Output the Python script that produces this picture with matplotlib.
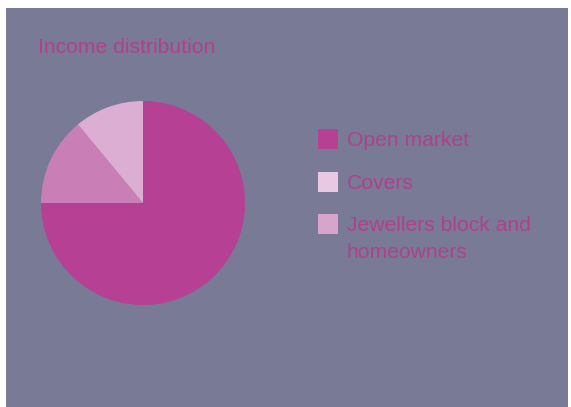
import matplotlib
matplotlib.use("Agg")
import matplotlib.pyplot as plt
from matplotlib.patches import Rectangle

# data
labels = ["Open market", "Covers", "Jewellers block and\nhomeowners"]
shares = [75, 14, 11]
pie_colors = ["#B54094", "#C97FB5", "#DCAED3"]
legend_colors = ["#B54094", "#E9C9E2", "#D7A4CB"]
title = "Income distribution"

W, H = 571, 407
bg = "#787A96"
text_color = "#B0408C"
font = "Liberation Sans"
fs = 15.2

fig = plt.figure(figsize=(W / 100, H / 100), dpi=100, facecolor="white")

def fx(px):
    return px / W

def fy(py):
    return 1 - py / H

# grey panel
fig.patches.append(Rectangle((fx(6), fy(407)), fx(568) - fx(6), fy(8) - fy(407),
                             transform=fig.transFigure, facecolor=bg,
                             edgecolor="none", zorder=-5))

fig.text(fx(38), fy(53), title, color=text_color, fontsize=fs,
         family=font, va="baseline", ha="left")

# pie
cx, cy, r = 143, 203, 102
ax = fig.add_axes([fx(cx - r), fy(cy + r), fx(2 * r), fy(cy - r) - fy(cy + r)])
ax.patch.set_visible(False)
ax.pie(shares, colors=pie_colors, startangle=90, counterclock=False,
       wedgeprops=dict(linewidth=0))
ax.set_xlim(-1.0, 1.0)
ax.set_ylim(-1.0, 1.0)
ax.set_aspect("auto")
ax.axis("off")

# legend
rows_y = [129, 172, 214]
for lab, col, y in zip(labels, legend_colors, rows_y):
    fig.patches.append(Rectangle((fx(318), fy(y + 20)), fx(20), fy(y) - fy(y + 20),
                                 transform=fig.transFigure, facecolor=col,
                                 edgecolor="none", zorder=1))
    for i, line in enumerate(lab.split("\n")):
        fig.text(fx(347), fy(y + 17 + 27 * i), line, color=text_color,
                 fontsize=fs, family=font, va="baseline", ha="left")

fig.savefig("out.png", dpi=100, facecolor="white")
